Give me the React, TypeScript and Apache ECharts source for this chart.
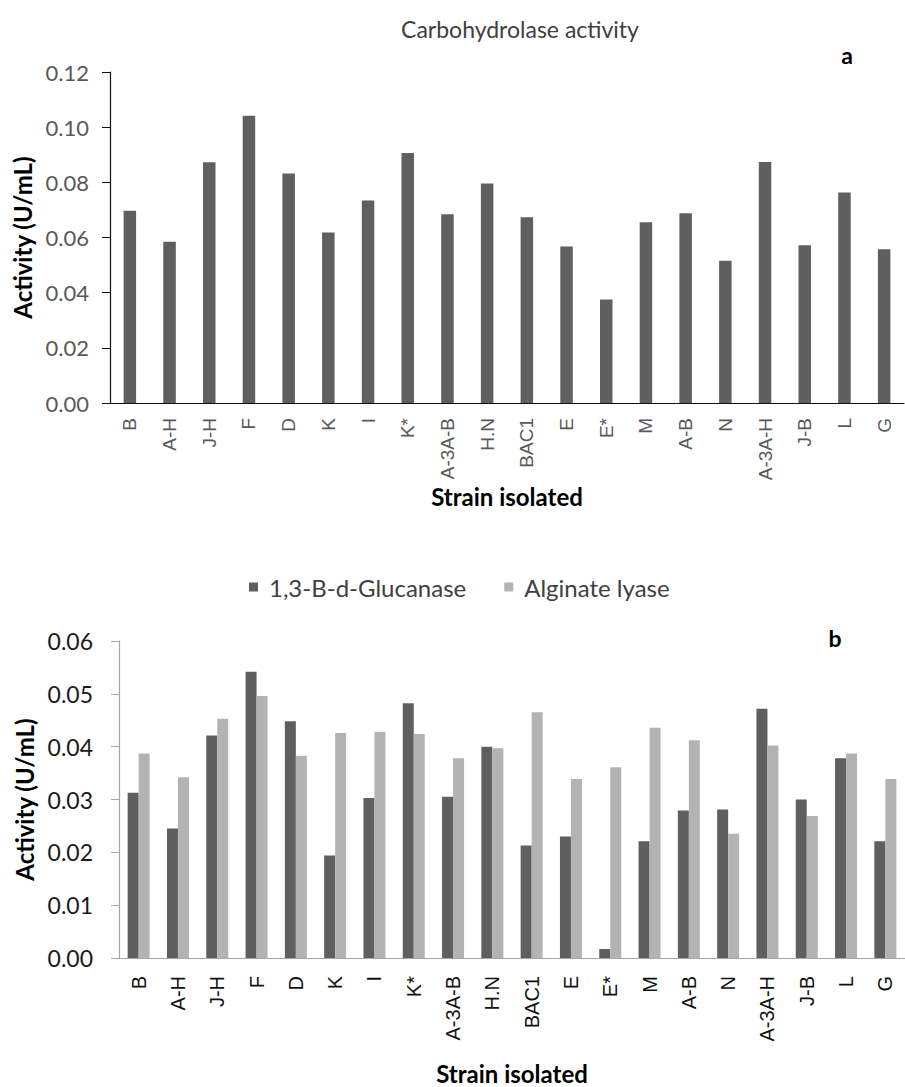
import React, { useEffect, useRef } from "react";
import * as echarts from "echarts";

const strains = ["B", "A-H", "J-H", "F", "D", "K", "I", "K*", "A-3A-B", "H.N", "BAC1", "E", "E*", "M", "A-B", "N", "A-3A-H", "J-B", "L", "G"];
const carbohydrolase = [0.0697, 0.0585, 0.0873, 0.1041, 0.0832, 0.0618, 0.0734, 0.0906, 0.0684, 0.0796, 0.0673, 0.0567, 0.0375, 0.0655, 0.0688, 0.0516, 0.0874, 0.0572, 0.0763, 0.0557];
const glucanase = [0.0313, 0.0245, 0.0421, 0.0542, 0.0448, 0.0194, 0.0303, 0.0482, 0.0305, 0.0400, 0.0213, 0.0230, 0.0017, 0.0221, 0.0279, 0.0281, 0.0472, 0.0300, 0.0378, 0.0221];
const alginateLyase = [0.0387, 0.0342, 0.0453, 0.0496, 0.0383, 0.0426, 0.0428, 0.0424, 0.0378, 0.0397, 0.0465, 0.0339, 0.0361, 0.0436, 0.0412, 0.0235, 0.0402, 0.0269, 0.0387, 0.0339];
const seriesNames = ["1,3-B-d-Glucanase", "Alginate lyase"];

const CAL = "Lato, 'Open Sans', sans-serif";
const ARIAL = "'Liberation Sans', Arial, sans-serif";
const DARK = "#5f5f5f";
const LIGHT = "#b3b3b3";

export default function App() {
  const ref = useRef<HTMLDivElement>(null);
  useEffect(() => {
    if (!ref.current) return;
    const chart = echarts.init(ref.current, undefined, { renderer: "svg" });
    const fmt = (v: number) => v.toFixed(2);
    const nameStyle = { fontFamily: CAL, fontSize: 24, fontWeight: "bold", color: "#000" };
    chart.setOption({
      animation: false,
      backgroundColor: "#ffffff",
      grid: [
        { left: 110, top: 72, width: 794, height: 331 },
        { left: 119, top: 641, width: 787, height: 317 },
      ],
      legend: {
        data: seriesNames,
        left: 244,
        top: 570,
        itemWidth: 9,
        itemHeight: 9,
        itemGap: 38,
        icon: "rect",
        textStyle: { fontFamily: CAL, fontSize: 24, color: "#404040", padding: [0, 0, 0, 6] },
      },
      xAxis: [
        {
          type: "category",
          gridIndex: 0,
          data: strains,
          axisLine: { lineStyle: { color: "#111", width: 1.2 } },
          axisTick: { show: false },
          axisLabel: { rotate: 90, margin: 15, interval: 0, fontFamily: ARIAL, fontSize: 19, color: "#595959" },
          name: "Strain isolated",
          nameLocation: "middle",
          nameGap: 64,
          nameTextStyle: nameStyle,
        },
        {
          type: "category",
          gridIndex: 1,
          data: strains,
          axisLine: { lineStyle: { color: "#a6a6a6", width: 1.2 } },
          axisTick: { show: false },
          axisLabel: { rotate: 90, margin: 18, interval: 0, fontFamily: ARIAL, fontSize: 20, color: "#111" },
          name: "Strain isolated",
          nameLocation: "middle",
          nameGap: 103,
          nameTextStyle: nameStyle,
        },
      ],
      yAxis: [
        {
          type: "value",
          gridIndex: 0,
          min: 0,
          max: 0.12,
          interval: 0.02,
          splitLine: { show: false },
          axisLine: { show: true, lineStyle: { color: "#111", width: 1.2 } },
          axisTick: { show: true, length: 8, lineStyle: { color: "#111" } },
          axisLabel: { formatter: fmt, margin: 21, fontFamily: CAL, fontSize: 22, color: "#595959" },
          name: "Activity (U/mL)",
          nameLocation: "middle",
          nameGap: 74,
          nameTextStyle: nameStyle,
        },
        {
          type: "value",
          gridIndex: 1,
          min: 0,
          max: 0.06,
          interval: 0.01,
          splitLine: { show: false },
          axisLine: { show: true, lineStyle: { color: "#a6a6a6", width: 1.2 } },
          axisTick: { show: true, length: 8, lineStyle: { color: "#a6a6a6" } },
          axisLabel: { formatter: fmt, margin: 26, fontFamily: CAL, fontSize: 23, color: "#1a1a1a" },
          name: "Activity (U/mL)",
          nameLocation: "middle",
          nameGap: 83,
          nameTextStyle: nameStyle,
        },
      ],
      series: [
        {
          type: "bar",
          name: "Carbohydrolase activity",
          xAxisIndex: 0,
          yAxisIndex: 0,
          data: carbohydrolase,
          barWidth: 12.5,
          itemStyle: { color: DARK },
        },
        {
          type: "bar",
          name: seriesNames[0],
          xAxisIndex: 1,
          yAxisIndex: 1,
          data: glucanase,
          barWidth: 11,
          barGap: "0%",
          itemStyle: { color: DARK },
        },
        {
          type: "bar",
          name: seriesNames[1],
          xAxisIndex: 1,
          yAxisIndex: 1,
          data: alginateLyase,
          barWidth: 11,
          barGap: "0%",
          itemStyle: { color: LIGHT },
        },
      ],
      graphic: [
        {
          type: "text",
          x: 520,
          y: 29,
          style: { text: "Carbohydrolase activity", font: `23px ${CAL}`, fill: "#404040", textAlign: "center", textVerticalAlign: "middle" },
        },
        {
          type: "text",
          x: 847,
          y: 55,
          style: { text: "a", font: `bold 23px ${CAL}`, fill: "#000", textAlign: "center", textVerticalAlign: "middle" },
        },
        {
          type: "text",
          x: 835,
          y: 638,
          style: { text: "b", font: `bold 23px ${CAL}`, fill: "#000", textAlign: "center", textVerticalAlign: "middle" },
        },
      ],
    });
    return () => chart.dispose();
  }, []);
  return <div ref={ref} style={{ position: "absolute", left: 0, top: 0, width: 905, height: 1087 }} />;
}
